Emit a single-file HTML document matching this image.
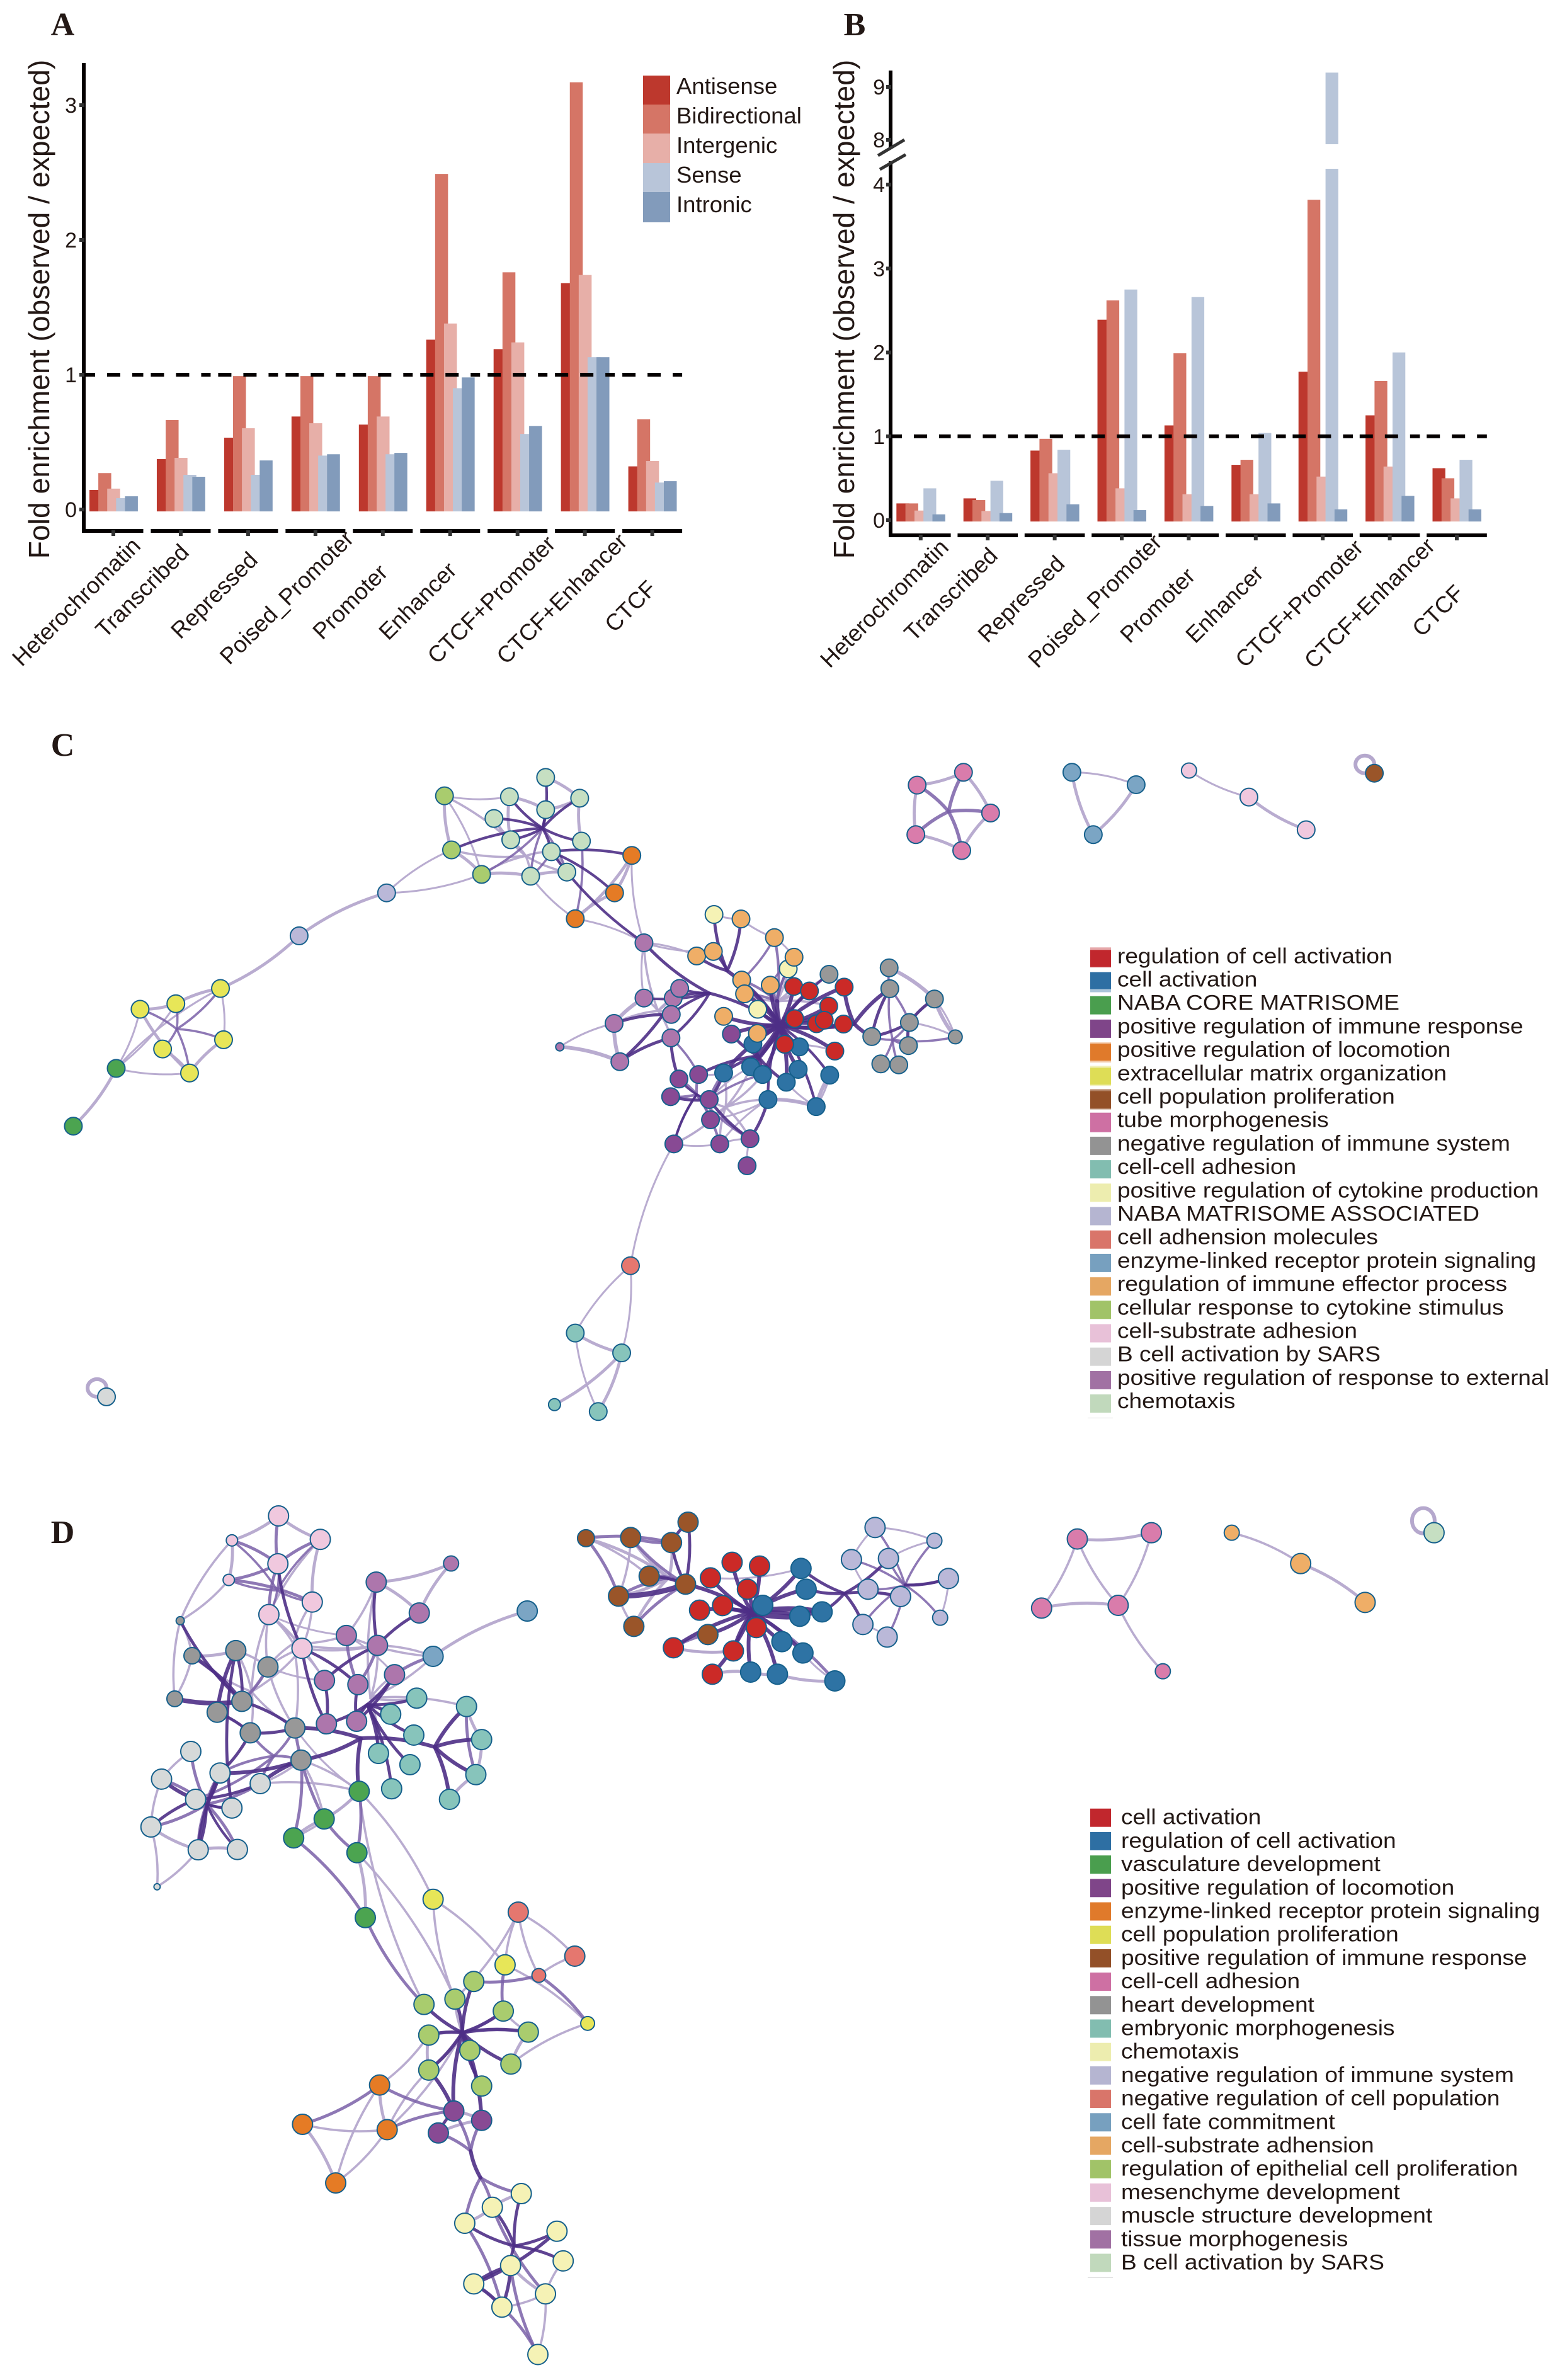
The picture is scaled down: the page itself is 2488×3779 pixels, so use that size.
<!DOCTYPE html>
<html lang="en">
<head>
<meta charset="utf-8">
<title>Fold enrichment and enrichment networks</title>
<style>
html,body{margin:0;padding:0;background:#fff}
svg{display:block}
text{font-family:"Liberation Sans",Arial,sans-serif;fill:#231815}
.letter{font-family:"Liberation Serif",serif;font-weight:bold;font-size:52px;text-anchor:middle}
.ytitle{font-size:46.3px;text-anchor:middle}
.barleg{font-size:36.5px}
.netleg{font-size:34px}
</style>
</head>
<body>
<svg id="figure" xmlns="http://www.w3.org/2000/svg" width="2488" height="3779" viewBox="0 0 2488 3779">
<rect width="2488" height="3779" fill="#fff"/>

<text class="letter" x="99.5" y="56">A</text>
<text class="letter" x="1357" y="56">B</text>
<text class="letter" x="99.5" y="1200">C</text>
<text class="letter" x="99.5" y="2450">D</text>

<text class="ytitle" transform="translate(78,491) rotate(-90)">Fold enrichment (observed / expected)</text>
<text class="ytitle" transform="translate(1356,491) rotate(-90)">Fold enrichment (observed / expected)</text>

<g id="panel-a"></g>
<g id="panel-b"></g>

<g>
<g><rect x="1021" y="120" width="43" height="46" fill="#BD382D"/><text class="barleg" x="1074" y="149">Antisense</text></g>
<g><rect x="1021" y="166" width="43" height="46" fill="#D57566"/><text class="barleg" x="1074" y="196">Bidirectional</text></g>
<g><rect x="1021" y="212" width="43" height="47" fill="#E7AFA8"/><text class="barleg" x="1074" y="243">Intergenic</text></g>
<g><rect x="1021" y="259" width="43" height="46" fill="#B8C5D9"/><text class="barleg" x="1074" y="290">Sense</text></g>
<g><rect x="1021" y="305" width="43" height="48" fill="#829BBB"/><text class="barleg" x="1074" y="337">Intronic</text></g>
</g>

<g id="net-c"></g>
<g id="net-d"></g>

<g>
<g transform="translate(0,1529.3)"><rect x="1731" y="-25" width="33" height="32" fill="#C1272D" opacity=".4"/><rect x="1731" y="-21" width="33" height="27" fill="#C1272D"/><text class="netleg" transform="translate(1774,0) scale(1.09,1)">regulation of cell activation</text></g>
<g transform="translate(0,1566.5)"><rect x="1731" y="-23" width="33" height="32" fill="#2E6FA3" opacity=".4"/><rect x="1731" y="-23" width="33" height="27" fill="#2E6FA3"/><text class="netleg" transform="translate(1774,0) scale(1.09,1)">cell activation</text></g>
<g transform="translate(0,1603.7)"><rect x="1731" y="-22" width="33" height="29" fill="#4A9E4E"/><text class="netleg" transform="translate(1774,0) scale(1.09,1)">NABA CORE MATRISOME</text></g>
<g transform="translate(0,1640.9)"><rect x="1731" y="-22" width="33" height="29" fill="#7F4589"/><text class="netleg" transform="translate(1774,0) scale(1.09,1)">positive regulation of immune response</text></g>
<g transform="translate(0,1678.1)"><rect x="1731" y="-23" width="33" height="32" fill="#E07A2B" opacity=".4"/><rect x="1731" y="-21" width="33" height="27" fill="#E07A2B"/><text class="netleg" transform="translate(1774,0) scale(1.09,1)">positive regulation of locomotion</text></g>
<g transform="translate(0,1715.3)"><rect x="1731" y="-23" width="33" height="32" fill="#DEDD56" opacity=".4"/><rect x="1731" y="-20" width="33" height="27" fill="#DEDD56"/><text class="netleg" transform="translate(1774,0) scale(1.09,1)">extracellular matrix organization</text></g>
<g transform="translate(0,1752.5)"><rect x="1731" y="-23" width="33" height="32" fill="#935028" opacity=".7"/><rect x="1731" y="-20" width="33" height="27" fill="#935028"/><text class="netleg" transform="translate(1774,0) scale(1.09,1)">cell population proliferation</text></g>
<g transform="translate(0,1789.7)"><rect x="1731" y="-23" width="33" height="31" fill="#CE70A3"/><text class="netleg" transform="translate(1774,0) scale(1.09,1)">tube morphogenesis</text></g>
<g transform="translate(0,1826.9)"><rect x="1731" y="-22" width="33" height="29" fill="#939393"/><text class="netleg" transform="translate(1774,0) scale(1.09,1)">negative regulation of immune system</text></g>
<g transform="translate(0,1864.1)"><rect x="1731" y="-22" width="33" height="29" fill="#82BDB0"/><text class="netleg" transform="translate(1774,0) scale(1.09,1)">cell-cell adhesion</text></g>
<g transform="translate(0,1901.3)"><rect x="1731" y="-22" width="33" height="29" fill="#EDEDAF"/><text class="netleg" transform="translate(1774,0) scale(1.09,1)">positive regulation of cytokine production</text></g>
<g transform="translate(0,1938.5)"><rect x="1731" y="-22" width="33" height="29" fill="#B5B5D1"/><text class="netleg" transform="translate(1774,0) scale(1.09,1)">NABA MATRISOME ASSOCIATED</text></g>
<g transform="translate(0,1975.7)"><rect x="1731" y="-22" width="33" height="29" fill="#D9756A"/><text class="netleg" transform="translate(1774,0) scale(1.09,1)">cell adhension molecules</text></g>
<g transform="translate(0,2012.9)"><rect x="1731" y="-22" width="33" height="29" fill="#77A0BF"/><text class="netleg" transform="translate(1774,0) scale(1.09,1)">enzyme-linked receptor protein signaling</text></g>
<g transform="translate(0,2050.1)"><rect x="1731" y="-22" width="33" height="29" fill="#E5A763"/><text class="netleg" transform="translate(1774,0) scale(1.09,1)">regulation of immune effector process</text></g>
<g transform="translate(0,2087.3)"><rect x="1731" y="-22" width="33" height="29" fill="#A1C368"/><text class="netleg" transform="translate(1774,0) scale(1.09,1)">cellular response to cytokine stimulus</text></g>
<g transform="translate(0,2124.5)"><rect x="1731" y="-22" width="33" height="29" fill="#E8C1D8"/><text class="netleg" transform="translate(1774,0) scale(1.09,1)">cell-substrate adhesion</text></g>
<g transform="translate(0,2161.7)"><rect x="1731" y="-22" width="33" height="29" fill="#D5D5D5"/><text class="netleg" transform="translate(1774,0) scale(1.09,1)">B cell activation by SARS</text></g>
<g transform="translate(0,2198.9)"><rect x="1731" y="-22" width="33" height="29" fill="#A171A3"/><text class="netleg" transform="translate(1774,0) scale(1.09,1)">positive regulation of response to external</text></g>
<g transform="translate(0,2236.1)"><rect x="1731" y="-22" width="33" height="29" fill="#C1D9BC"/><text class="netleg" transform="translate(1774,0) scale(1.09,1)">chemotaxis</text></g>
<rect x="1727" y="2251" width="40" height="1" fill="#ddd"/>
</g>

<g>
<g transform="translate(0,2896.7)"><rect x="1731" y="-25" width="33" height="29" fill="#C1272D"/><text class="netleg" transform="translate(1780,0) scale(1.09,1)">cell activation</text></g>
<g transform="translate(0,2933.9)"><rect x="1731" y="-25" width="33" height="29" fill="#2E6FA3"/><text class="netleg" transform="translate(1780,0) scale(1.09,1)">regulation of cell activation</text></g>
<g transform="translate(0,2971.1)"><rect x="1731" y="-25" width="33" height="29" fill="#4A9E4E"/><text class="netleg" transform="translate(1780,0) scale(1.09,1)">vasculature development</text></g>
<g transform="translate(0,3008.3)"><rect x="1731" y="-25" width="33" height="29" fill="#7F4589"/><text class="netleg" transform="translate(1780,0) scale(1.09,1)">positive regulation of locomotion</text></g>
<g transform="translate(0,3045.5)"><rect x="1731" y="-25" width="33" height="29" fill="#E07A2B"/><text class="netleg" transform="translate(1780,0) scale(1.09,1)">enzyme-linked receptor protein signaling</text></g>
<g transform="translate(0,3082.7)"><rect x="1731" y="-25" width="33" height="29" fill="#DEDD56"/><text class="netleg" transform="translate(1780,0) scale(1.09,1)">cell population proliferation</text></g>
<g transform="translate(0,3119.9)"><rect x="1731" y="-25" width="33" height="29" fill="#935028"/><text class="netleg" transform="translate(1780,0) scale(1.09,1)">positive regulation of immune response</text></g>
<g transform="translate(0,3157.1)"><rect x="1731" y="-25" width="33" height="29" fill="#CE70A3"/><text class="netleg" transform="translate(1780,0) scale(1.09,1)">cell-cell adhesion</text></g>
<g transform="translate(0,3194.3)"><rect x="1731" y="-25" width="33" height="29" fill="#939393"/><text class="netleg" transform="translate(1780,0) scale(1.09,1)">heart development</text></g>
<g transform="translate(0,3231.5)"><rect x="1731" y="-25" width="33" height="29" fill="#82BDB0"/><text class="netleg" transform="translate(1780,0) scale(1.09,1)">embryonic morphogenesis</text></g>
<g transform="translate(0,3268.7)"><rect x="1731" y="-25" width="33" height="29" fill="#EDEDAF"/><text class="netleg" transform="translate(1780,0) scale(1.09,1)">chemotaxis</text></g>
<g transform="translate(0,3305.9)"><rect x="1731" y="-25" width="33" height="29" fill="#B5B5D1"/><text class="netleg" transform="translate(1780,0) scale(1.09,1)">negative regulation of immune system</text></g>
<g transform="translate(0,3343.1)"><rect x="1731" y="-25" width="33" height="29" fill="#D9756A"/><text class="netleg" transform="translate(1780,0) scale(1.09,1)">negative regulation of cell population</text></g>
<g transform="translate(0,3380.3)"><rect x="1731" y="-25" width="33" height="29" fill="#77A0BF"/><text class="netleg" transform="translate(1780,0) scale(1.09,1)">cell fate commitment</text></g>
<g transform="translate(0,3417.5)"><rect x="1731" y="-25" width="33" height="29" fill="#E5A763"/><text class="netleg" transform="translate(1780,0) scale(1.09,1)">cell-substrate adhension</text></g>
<g transform="translate(0,3454.7)"><rect x="1731" y="-25" width="33" height="29" fill="#A1C368"/><text class="netleg" transform="translate(1780,0) scale(1.09,1)">regulation of epithelial cell proliferation</text></g>
<g transform="translate(0,3491.9)"><rect x="1731" y="-25" width="33" height="29" fill="#E8C1D8"/><text class="netleg" transform="translate(1780,0) scale(1.09,1)">mesenchyme development</text></g>
<g transform="translate(0,3529.1)"><rect x="1731" y="-25" width="33" height="29" fill="#D5D5D5"/><text class="netleg" transform="translate(1780,0) scale(1.09,1)">muscle structure development</text></g>
<g transform="translate(0,3566.3)"><rect x="1731" y="-25" width="33" height="29" fill="#A171A3"/><text class="netleg" transform="translate(1780,0) scale(1.09,1)">tissue morphogenesis</text></g>
<g transform="translate(0,3603.5)"><rect x="1731" y="-25" width="33" height="29" fill="#C1D9BC"/><text class="netleg" transform="translate(1780,0) scale(1.09,1)">B cell activation by SARS</text></g>
<rect x="1727" y="3616" width="40" height="1" fill="#ddd"/>
</g>
</svg>

<script>
/* ===== bar chart data ===== */
const categories = ['Heterochromatin','Transcribed','Repressed','Poised_Promoter','Promoter','Enhancer','CTCF+Promoter','CTCF+Enhancer','CTCF'];
const seriesNames = ['Antisense','Bidirectional','Intergenic','Sense','Intronic'];
const seriesColors = ['#BD382D','#D57566','#E7AFA8','#B8C5D9','#829BBB'];

const aAntisense     = [0.145,0.374,0.533,0.69,0.63,1.26,1.19,1.68,0.32];
const aBidirectional = [0.27,0.664,0.99,0.99,0.99,2.49,1.76,3.17,0.67];
const aIntergenic    = [0.155,0.383,0.603,0.64,0.69,1.38,1.24,1.74,0.36];
const aSense         = [0.084,0.257,0.257,0.40,0.41,0.90,0.56,1.13,0.20];
const aIntronic      = [0.098,0.243,0.364,0.41,0.42,0.98,0.62,1.13,0.21];

const bAntisense     = [0.20,0.26,0.83,2.39,1.13,0.66,1.77,1.25,0.62];
const bBidirectional = [0.20,0.24,0.97,2.62,1.99,0.72,3.82,1.66,0.50];
const bIntergenic    = [0.115,0.11,0.56,0.38,0.31,0.31,0.52,0.64,0.26];
const bSense         = [0.38,0.47,0.84,2.75,2.66,1.04,9.27,2.00,0.72];
const bIntronic      = [0.07,0.085,0.19,0.12,0.17,0.20,0.13,0.29,0.13];

const aTicks = [0,1,2,3];
const bTicksLower = [0,1,2,3,4];
const bTicksUpper = [8,9];

/* ===== network data: node layouts per cluster, [x,y] or [x,y,radius] ===== */
const frames = {
  Z3:[0,1150,1.4255,1.3635], Z4:[800,1350,1.96,1.96], Z5:[1400,1180,1.441,1.4255],
  Z6:[180,2380,1.96,1.96],  Z7:[350,2950,2.24,1.891], Z8:[900,2380,0.987,3]
};

const netCClusters = [
 ['chem','Z3','#C6DFC2',[[1235,115],[1153,157],[1312,160],[1235,185],[1118,204],[1156,250],[1316,253],[1248,276],[1283,320],[1201,329]]],
 ['yg','Z3','#A9CC6E',[[1006,155],[1022,272],[1090,325]]],
 ['or','Z3','#E57B25',[[1430,284],[1391,365],[1302,421]]],
 ['lav','Z3','#BAB8D8',[[875,365],[677,458]]],
 ['ye','Z3','#E7E658',[[499,572],[398,605],[317,617],[506,683],[368,703],[429,755]]],
 ['gr','Z3','#4CA450',[[263,745],[166,870]]],
 ['lg','Z3','#D6D9D9',[[241,1456]]],
 ['te','Z3','#87C4BB',[[1302,1318],[1407,1361],[1255,1473,9.5],[1354,1488]]],
 ['sa','Z4','#E5776F',[[394,1293]]],
 ['pu','Z4','#884A94',[[708,572],[606,698],[545,712],[519,767],[639,776],[643,839],[529,914],[672,914],[766,898],[757,982]]],
 ['ma','Z4','#AD76AC',[[436,288],[436,460],[527,460],[547,430],[521,511],[343,539],[520,584],[361,658],[174,612,6.5]]],
 ['bl','Z4','#2E73A4',[[775,603],[920,612],[768,674],[684,693],[805,698],[916,682],[879,722],[1014,700],[822,776],[972,798]]],
 ['py','Z4','#F5F2B5',[[654,200],[885,369],[790,495]]],
 ['lo','Z4','#EFAE67',[[738,214],[842,272],[903,333],[600,329],[652,315],[740,404],[829,420],[749,447],[684,517],[789,570]]],
 ['rd','Z4','#CB2A27',[[902,424],[951,438],[1059,426],[1011,485],[973,540],[905,524],[997,529],[1057,541],[874,604],[1030,625]]],
 ['gy','Z4','#989898',[[1012,386],[1199,366],[1201,431],[1340,463],[1262,536],[1145,580],[1405,581,11],[1259,608],[1173,665],[1229,668]]],
 ['pi','Z5','#D97CAB',[[187,66],[81,95],[249,158],[78,207],[183,243]]],
 ['sb','Z5','#7BA5C4',[[435,66],[582,94],[484,207]]],
 ['lp','Z5','#F0C8DE',[[703,62,12],[840,122],[971,196]]],
 ['bn','Z5','#9A5529',[[1127,68]]]
];
const netCHubs = [
 ['H1','Z3',1228,225],['H2','Z3',400,660],['H3','Z4',860,545],['H4','Z4',640,445],['H5','Z4',695,375],
 ['H6','Z4',1210,590],['H7','Z4',600,760],['H8','Z5',153,155],['H9','Z4',1090,540],
 ['H10','Z4',790,640],['H11','Z4',690,800],['H12','Z3',1190,285],['H13','Z4',480,500],['H14','Z4',850,470]
];
const netCEdges = [
 ['p',4,'','chem0-chem2 chem1-chem5 chem2-chem3 chem2-chem6 chem7-chem8 chem8-chem9 chem1-chem3 yg0-yg1 yg1-yg2 chem4-chem5 or0-or2 or1-or2 or0-or1 ye0-ye1 ye1-ye2 ye2-ye5 ye4-ye5 ye3-ye5 gr0-gr1 lav0-lav1 lav1-ye0 te0-te1 te1-te3 te2-te1 yg2-chem9'],
 ['p',2.5,'','yg0-chem1 yg0-yg2 lav0-yg2 lav0-yg1 chem9-or2 or2-ma0 or0-ma0 ye0-ye3 ye0-gr0 ye2-gr0 gr0-ye5 ye1-gr0 te0-te3 te0-sa0 te1-sa0 sa0-pu6 ma0-ma1 ma0-lo3 ma0-lo4 pu9-pu8 pu6-pu7 pu7-pu8 pu5-bl8 pu7-bl8 pu6-pu5 bl8-bl9 bl6-bl9 bl7-bl9 lo0-lo1 lo1-lo2 py0-lo0 ma8-ma5 rd9-rd8 gy0-rd2 gy1-gy2 gy3-gy6 gy3-gy4 gy4-gy6 pu1-bl3 pu4-bl2'],
 ['p',5,'','ma5-ma7 ma8-ma7 ma1-ma5 bl8-bl9 bl7-bl9 gy1-gy3 gy3-gy6'],
 ['p',4,'','pi0-pi1 pi1-pi3 pi0-pi2 pi2-pi4 pi3-pi4 sb0-sb2 sb1-sb2 lp1-lp2'],
 ['p',2.5,'','sb0-sb1 lp0-lp1'],
 ['p',3,'H11','pu5 pu6 pu7 pu8 bl3 bl8 bl4 pu4 bl2'],
 ['p',3,'H12','chem4 chem5 chem9 chem8 yg1 yg2 chem7 yg0'],
 ['p',3,'H13','ma0 ma1 ma2 ma3 ma4 ma5 ma6'],
 ['p',3,'H14','rd0 rd1 lo6 lo7 py1 lo2 gy0 rd3'],
 ['m',3,'H2','ye2 ye3 ye1 ye5 ye0 ye4'],
 ['m',3,'H6','gy4 gy5 gy7 gy8 gy9 gy2 gy6'],
 ['m',3.5,'H7','pu1 pu2 pu3 pu4 pu5 pu6 pu7 pu8'],
 ['m',4.5,'H8','pi0 pi1 pi2 pi3 pi4'],
 ['m',3,'','chem7-chem9 or2-chem6 lo1-lo5 lo2-lo6 pu4-bl3 bl4-pu4 ma6-pu1 gy1-gy2 gy2-gy4'],
 ['m',3,'H1','chem8 chem9 yg2'],
 ['m',3.5,'H14','lo5 lo6 lo7 py1 lo1 lo2'],
 ['d',3.5,'H1','chem0 chem1 chem3 chem2 chem4 chem5 chem6 chem7 yg1'],
 ['d',3.5,'','or0-chem7 ma0-chem7 or1-chem7'],
 ['d',5,'H3','rd0 rd1 rd3 rd4 rd5 rd6 rd8 rd9 bl1 bl2 bl3 bl4 bl5 bl6 bl0 lo6 lo7 lo8 lo9 py2 pu0 rd2 rd7'],
 ['d',3.5,'H3','bl7 bl8 bl9 lo5 gy0'],
 ['d',4,'H10','bl0 bl2 bl3 bl4 bl6 pu0 pu1'],
 ['d',8,'','H10-H3'],
 ['d',6,'','H3-H14'],
 ['d',5,'','H3-H9 H9-gy2 H9-gy5 H9-rd7 rd2-H9'],
 ['d',4,'H5','lo4 lo3 lo0 py0'],
 ['d',5,'','H5-H3'],
 ['d',3.5,'H4','ma1 ma2 ma3 ma4 ma6'],
 ['d',4,'','H4-H3 ma0-H4 ma7-ma6 ma6-pu2 pu8-pu4 pu4-bl3 bl8-pu8 pu3-pu4 gy4-gy5 gy2-gy5 gy4-gy3 gy4-gy7 ma5-ma4 ma7-ma3'],
 ['d',3,'H7','pu6 pu2 pu4']
];
const netCLoops = [['lg0',-15,-14,15,14],['bn0',-15,-14,15,14]];

const netDClusters = [
 ['lp','Z6','#F0C8DE',[[514,53],[369,129,9],[644,126],[512,202],[359,252,9],[619,321],[484,360],[587,465]]],
 ['ma','Z6','#AD76AC',[[1051,201,12],[818,259],[952,355],[725,425],[822,456],[875,547],[657,565],[761,578],[663,700],[757,692]]],
 ['sb','Z6','#7BA5C4',[[1288,349],[995,490]]],
 ['gy','Z6','#989898',[[208,379,6.5],[381,472],[245,488,13],[481,523],[191,622,12.5],[400,630],[323,664],[426,728],[565,713],[584,813]]],
 ['te','Z6','#87C4BB',[[944,620],[1099,646],[863,670],[935,735],[1146,749],[825,792],[923,827],[1128,858],[866,902],[1046,935]]],
 ['lg','Z6','#D6D9D9',[[241,786],[150,872],[332,853],[457,886],[256,935],[369,962],[117,1021],[264,1092],[386,1091],[136,1207,5]]],
 ['gn','Z6','#4CA450',[[765,910],[656,996],[561,1055],[758,1101],[784,1303]]],
 ['ye','Z6','#E7E658',[[995,1246],[1219,1450]]],
 ['yf','Z7','#E7E658',[[1306,497,11]]],
 ['sa','Z6','#E5776F',[[1260,1286],[1436,1423],[1324,1483,11]]],
 ['yg','Z7','#A9CC6E',[[901,371],[834,424],[724,440],[1006,460],[1095,523],[741,532],[887,578],[1033,619],[741,637],[929,685]]],
 ['en','Z7','#E57B25',[[566,682],[292,800],[593,816],[410,976]]],
 ['pu','Z7','#884A94',[[830,760],[929,788],[775,826]]],
 ['cy','Z7','#F5F2B5',[[1070,1008],[967,1049],[869,1097],[1197,1121],[1219,1210],[1032,1224],[901,1279],[1156,1309],[1001,1349],[1129,1491]]],
 ['bn','Z8','#9A5529',[[30,187,13.5],[190,111],[100,184],[164,208],[129,368],[186,406],[81,463],[105,607],[221,646]]],
 ['lv','Z8','#BAB8D8',[[483,136],[576,199,12],[446,289],[504,284],[598,379],[472,430],[523,465],[585,566,12],[464,598],[502,658]]],
 ['bl','Z8','#2E73A4',[[367,331],[375,430],[307,507],[365,559],[400,538],[337,680],[370,734],[288,825],[330,835],[420,867]]],
 ['rd','Z8','#CB2A27',[[259,302],[302,320],[225,376],[283,430],[244,508],[208,530],[297,613],[167,709],[261,724],[228,835]]],
 ['pk','Z8','#D97CAB',[[800,191],[916,161],[744,520],[864,507],[934,821,12]]],
 ['lo','Z8','#EFAE67',[[1042,161,12],[1150,308],[1251,493]]],
 ['pg','Z8','#C6DFC2',[[1359,161]]]
];
const netDHubs = [
 ['HA','Z6',510,285],['HB','Z6',770,745],['HC','Z6',790,640],['HD','Z6',290,950],['HE','Z6',1000,772],
 ['HF','Z7',860,525],['HG','Z7',890,880],['HH','Z7',1045,1165],['HJ','Z7',925,960],
 ['HI','Z8',290,540],['HK','Z8',435,450],['HL','Z8',530,410],['HM','Z8',160,375],
 ['HN','Z6',430,600],['HO','Z6',500,800],['HP','Z6',560,450],['HQ','Z6',800,620]
];
const netDEdges = [
 ['p',4,'','lp0-lp1 lp0-lp2 lp1-lp4 lp2-lp5 ma0-ma1 ma0-ma2 ma1-ma2 sb0-sb1 gy1-gy2 te1-te4 te4-te7 te7-te9 lg7-lg8 lg6-lg7 gn0-gn1 gn1-gn2 gn3-gn4 yg4-yg7 yg8-yg5 en0-en2 en1-en3 pu1-pu2 pu0-pu1 cy0-cy1 cy1-cy2 cy5-cy7 bl9-bl8 bl7-bl8 rd9-bl7 rd7-rd8 lo1-lo2 pk0-pk1 pk2-pk3'],
 ['p',3,'','lp1-gy0 lp4-gy0 lp2-lp6 lp5-lp7 lp7-ma4 gy0-gy2 gy0-gy4 gy2-gy4 gy3-gy1 gy6-gy7 gy3-gy8 ma1-ma3 ma3-sb1 ma4-sb1 lg1-lg6 lg6-lg9 lg9-lg7 lg1-lg0 lg3-gy9 lg3-gn0 gn2-gn0 gn3-yg1 gn0-yg2 gn0-ye0 ye0-yg1 ye0-ye1 sa0-ye1 sa0-sa1 sa0-sa2 sa0-yg1 sa1-sa2 ye1-yf0 yg3-yg4 yg7-yf0 en0-en3 en2-en3 en1-en2 en2-yg8 en0-yg5 cy6-cy8 cy8-cy7 cy7-cy9 cy4-cy7 pk0-pk2 pk0-pk3 pk1-pk3 pk3-pk4 lo0-lo1 rd7-rd8 bn2-bn6 bn6-bn7 bn0-bn4 lp6-gy3 lp6-lp7 lp7-gy3 gy9-gn0 gn1-gy9'],
 ['p',2.5,'','ma3-ma5 lp6-ma3 lp6-ma6 gy8-gn0 ma6-gy3 lv0-lv2 lv0-lv1 lv1-lv3 lv4-lv7 lv2-lv5 lv8-lv9 lv5-lv6 bl9-bl6 rd2-bl0'],
 ['p',3,'HN','gy1 gy2 gy3 gy5 gy6 gy7 gy8 lp6 lp7'],
 ['p',3,'HP','lp5 lp6 lp7 ma3 ma6 gy3 gy8 ma4'],
 ['p',3,'HQ','ma1 ma4 ma5 te0 te1 te2 te5 sb1'],
 ['p',3,'HF','yg1 yg3 yg4 yg5 yg8 yg9 en2'],
 ['p',4,'HM','bn0 bn2 bn3 bn4 bn5 bn6 bn7'],
 ['m',4,'HD','lg0 lg1 lg2 lg3 lg4 lg5 lg6 lg7 lg8'],
 ['m',3,'HL','lv0 lv1 lv2 lv3 lv4 lv5 lv6 lv7 lv8 lv9'],
 ['m',3.5,'HO','gy8 gy9 lg3 gy7 lg2 lg4'],
 ['m',3,'HA','lp1 lp2 lp3 lp4 lp5 lp6'],
 ['m',4,'HM','bn4 bn5 bn6'],
 ['m',4,'','lp0-lp3 lp3-lp2 lp3-lp1 lp3-lp4 lp3-lp6 lp4-lp5 gy5-gy3 ma4-ma7 ma3-ma7 ma5-sb1 te1-te7 gn0-gn3 gn1-gn3 gn2-gn4 gn2-gy9 gn1-gy8 gn4-yg2 sa2-yg0 ye1-yg3 sa2-yf0 en1-en0 en2-pu0 en0-pu0 pu0-HG pu1-HG pu2-HG HJ-cy0 HJ-cy1 HJ-cy2 cy2-cy8 cy1-cy7 cy8-cy9 cy5-cy9 bn0-bn3 bn2-bn3 bn0-bn6 bn2-bn5 bn7-bn5 bl9-HI rd7-bn8'],
 ['d',4,'','gy0-gy5 gy1-gy5 gy7-gy8 gy6-gy7 ma1-ma4 ma4-ma2 ma4-ma6 ma5-ma9 ma7-ma9 ma6-ma8 lp3-lp7 lp7-ma7 lp7-ma8 gy5-gy8 gy1-lg5 gy7-lg2 lg4-lg3 lg6-lg4 pu0-pu2'],
 ['d',5,'','gy2-gy5 gy9-lg3 gy9-lg2 gy9-HB gy8-HB gy1-gy6 lg7-lg2 lg1-lg4 gn0-HB te9-HE te7-HE te4-HE HB-HE te1-HE'],
 ['d',3.5,'HD','lg2 lg4 lg5 lg7 lg8'],
 ['d',6,'','gy4-gy5'],
 ['d',4,'HC','te0 te2 te3 te5 te6 te8 ma9 ma8 ma5'],
 ['d',4.5,'HF','yg0 yg1 yg2 yg3 yg4 yg5 yg6 yg7 yg8 yg9'],
 ['d',5,'','HF-pu0 HF-pu1 HG-HJ yg8-pu0'],
 ['d',4,'HH','cy0 cy1 cy2 cy3 cy4 cy5'],
 ['d',4.5,'','cy5-cy6 cy5-cy8 cy6-cy3 cy6-cy8'],
 ['d',5,'HI','rd0 rd1 rd2 rd3 rd4 rd5 rd6 rd8 rd9 bl0 bl1 bl2 bl3 bl5 bl6 bl7 bl8 bn5 bn8 rd7'],
 ['d',7,'','HI-bl3 HI-bl4 bn6-bn5 bl3-bl4'],
 ['d',4,'','bl1-HK lv3-HK lv8-HK HK-bl4 lv6-HK lv4-HL bl0-HK bn4-bn5 bn1-bn3 bn1-bn5 bn3-bn5']
];
const netDLoops = [['pg0',-17,-19,18,20]];

/* ===== helpers ===== */
const SVGNS = 'http://www.w3.org/2000/svg';
function mk(tag, parent, attrs){
  const el = document.createElementNS(SVGNS, tag);
  for (const k in attrs) el.setAttribute(k, attrs[k]);
  parent.appendChild(el);
  return el;
}

/* ===== panel A axis functions ===== */
const yA = v => 809 - 214 * v;
const xA = (g, i) => 142 + 106.95 * g + 14.1 * i;
const tickXA = g => 180 + 106.95 * g;
/* ===== panel B axis functions ===== */
const yB = v => 826 - 133.2 * v;
const yBUpper = v => 222 - 84 * (v - 8);
const xB = (g, i) => 1423.3 + 106.4 * g + 14.3 * i;
const tickXB = g => 1461.8 + 106.4 * g;

const aLabelCentres = [[121,955.5],[225.7,938],[340,945],[455,948.5],[555.8,955.5],[663,954],[780,952],[892,950.5],[1001,962.5]];
const bLabelCentres = [[1404,958],[1509.6,943.5],[1621.3,951],[1738.4,954],[1837.8,961],[1944,959],[2062.8,958],[2174.4,957.5],[2283,969.5]];

function drawPanel(p){
  const g = p.root;
  // bars
  p.series.forEach((vals, si) => {
    vals.forEach((v, gi) => {
      const x = p.x(gi, si);
      if (p.upper && v >= 8) {
        const upper = mk('rect', g, {x:x, y:p.upper(v), width:p.barW, height:p.breakTop - p.upper(v), fill:seriesColors[si]});
        
        
        const lower = mk('rect', g, {x:x, y:p.breakBottom, width:p.barW, height:p.base - p.breakBottom, fill:seriesColors[si]});
        
        
      } else {
        const t = p.y(v);
        const bar = mk('rect', g, {x:x, y:t, width:p.barW, height:p.base - t, fill:seriesColors[si]});
        
        
      }
    });
  });
  // reference line and x-axis, in segments
  categories.forEach((c, gi) => {
    const tx = p.tickX(gi);
    const x0 = gi === 0 ? p.axisX : tx - p.half;
    const x1 = tx + p.half;
    const ref = mk('line', g, {x1:x0, x2:x1, y1:p.y(1), y2:p.y(1), stroke:'#040000', 'stroke-width':6, 'stroke-dasharray':'21 19'});
    
    
    const seg = mk('rect', g, {x:x0, y:p.axisY, width:x1 - x0, height:6, fill:'#040000'});
    
    
    const tick = mk('rect', g, {x:tx - 3, y:p.axisY + 2, width:6, height:9, fill:'#333'});
    
    
    const pos = p.labels[gi];
    const lab = mk('text', g, {transform:'translate(' + pos[0] + ',' + pos[1] + ') rotate(-45)', 'text-anchor':'middle', 'dominant-baseline':'central', 'font-size':36.5});
    lab.textContent = c;
    
    
  });
  // y axis
  p.axisRanges.forEach(r => {
    const ax = mk('rect', g, {x:p.axisX, y:r[0], width:6, height:r[1] - r[0], fill:'#040000'});
    
    
  });
  const addTick = (v, y) => {
    const t = mk('rect', g, {x:p.axisX - 4, y:y - 3, width:8, height:6, fill:'#333'});
    
    
    const l = mk('text', g, {x:p.labelX, y:y + 12, 'text-anchor':'end', 'font-size':34});
    l.textContent = v;
    
    
  };
  p.ticks.forEach(v => addTick(v, p.y(v)));
  if (p.upperTicks) p.upperTicks.forEach(v => addTick(v, p.upper(v)));
}

drawPanel({
  root:document.getElementById('panel-a'),
  series:[aAntisense,aBidirectional,aIntergenic,aSense,aIntronic],
  x:xA, y:yA, tickX:tickXA, barW:20.5, base:812, axisX:130, axisY:840, half:47.5,
  labels:aLabelCentres, axisRanges:[[100,846]], ticks:aTicks, labelX:122
});
drawPanel({
  root:document.getElementById('panel-b'),
  series:[bAntisense,bBidirectional,bIntergenic,bSense,bIntronic],
  x:xB, y:yB, upper:yBUpper, breakTop:229, breakBottom:268, tickX:tickXB, barW:20.3, base:828, axisX:1411, axisY:847, half:47.8,
  labels:bLabelCentres, axisRanges:[[112,236],[256,853]], ticks:bTicksLower, upperTicks:bTicksUpper, labelX:1405
});
// axis-break marks on panel B
const breakRoot = document.getElementById('panel-b');
[[1394,247,1436,222],[1397,269,1438,245.5]].forEach(s => {
  const m = mk('line', breakRoot, {x1:s[0], y1:s[1], x2:s[2], y2:s[3], stroke:'#333', 'stroke-width':5});
  
  
});

/* ===== networks ===== */
const edgeStyles = {p:['#B5A8CD',0.95], m:['#7A60A8',0.85], d:['#4E2F86',0.9]};
function project(frame, x, y){
  const f = frames[frame];
  return [f[0] + x / f[2], f[1] + y / f[3]];
}
function drawNetwork(root, clusters, hubs, edges, loops, defaultR){
  const points = {};
  clusters.forEach(c => {
    c[3].forEach((n, i) => {
      const xy = project(c[1], n[0], n[1]);
      points[c[0] + i] = {x:xy[0], y:xy[1], r:n[2] || defaultR, fill:c[2]};
    });
  });
  hubs.forEach(h => {
    const xy = project(h[1], h[2], h[3]);
    points[h[0]] = {x:xy[0], y:xy[1]};
  });
  let flip = 1;
  const curve = (a, b, cls, w) => {
    if (!points[a] || !points[b]) return;
    const A = points[a], B = points[b];
    const dx = B.x - A.x, dy = B.y - A.y;
    flip = -flip;
    const cx = (A.x + B.x) / 2 - dy * 0.09 * flip;
    const cy = (A.y + B.y) / 2 + dx * 0.09 * flip;
    const e = mk('path', root, {
      d:'M' + A.x.toFixed(1) + ' ' + A.y.toFixed(1) + 'Q' + cx.toFixed(1) + ' ' + cy.toFixed(1) + ' ' + B.x.toFixed(1) + ' ' + B.y.toFixed(1),
      fill:'none', stroke:edgeStyles[cls][0], 'stroke-opacity':edgeStyles[cls][1], 'stroke-width':w * 1.2, 'stroke-linecap':'round'
    });
    
    
  };
  edges.forEach(g => {
    const cls = g[0], w = g[1], hub = g[2];
    g[3].split(' ').forEach(tok => {
      if (hub) curve(tok, hub, cls, w);
      else {
        const ab = tok.split('-');
        curve(ab[0], ab[1], cls, w);
      }
    });
  });
  loops.forEach(l => {
    const n = points[l[0]];
    const loop = mk('ellipse', root, {cx:n.x + l[1], cy:n.y + l[2], rx:l[3], ry:l[4], fill:'none', stroke:'#B5A8CD', 'stroke-width':6});
    
    
  });
  Object.keys(points).forEach(k => {
    const n = points[k];
    if (!n.fill) return;
    const node = mk('circle', root, {cx:n.x, cy:n.y, r:n.r, fill:n.fill, stroke:'#15608C', 'stroke-width':2});
    
    
  });
}
drawNetwork(document.getElementById('net-c'), netCClusters, netCHubs, netCEdges, netCLoops, 14);
drawNetwork(document.getElementById('net-d'), netDClusters, netDHubs, netDEdges, netDLoops, 16);
</script>
</body>
</html>
